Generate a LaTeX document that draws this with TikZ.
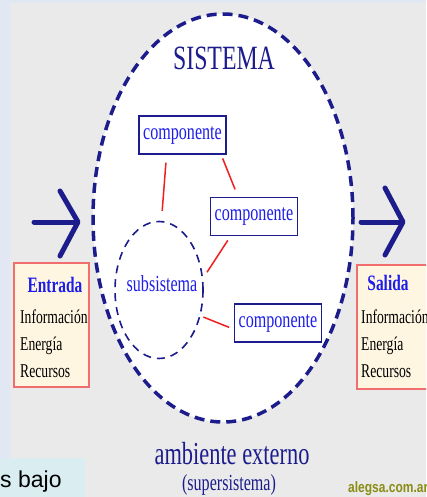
\documentclass[tikz,border=0pt]{standalone}
\usepackage{fontspec}
\setmainfont{Liberation Serif}[FakeStretch=0.7]
\setsansfont{Liberation Sans}[FakeStretch=0.8]
\newfontfamily\plainsans{Liberation Sans}
\usetikzlibrary{shapes.geometric}
\definecolor{navy}{RGB}{28,28,140}
\definecolor{compblue}{RGB}{30,30,235}
\definecolor{boxred}{RGB}{240,110,110}
\definecolor{cream}{RGB}{255,246,226}
\definecolor{panelgrey}{RGB}{234,234,234}
\definecolor{edgeblue}{RGB}{225,232,243}
\definecolor{notecyan}{RGB}{218,238,242}
\definecolor{olive}{RGB}{138,140,20}
\definecolor{linkred}{RGB}{240,30,30}
\begin{document}
\begin{tikzpicture}[x=1pt, y=-1pt,
    comp/.style={draw=navy, line width=1.4pt, fill=white, minimum width=87pt, minimum height=38pt, inner sep=0pt, text=compblue, font=\fontsize{23}{23}\selectfont},
    link/.style={draw=linkred, line width=1.5pt},
    ioBox/.style={draw=boxred, line width=1.6pt, fill=cream, minimum width=75pt, minimum height=124pt, inner sep=0pt},
    ioHead/.style={anchor=base, inner sep=0pt, text=compblue, font=\fontsize{22}{22}\selectfont\bfseries},
    ioItem/.style={anchor=base west, inner sep=0pt, font=\fontsize{19.5}{19.5}\selectfont},
    bigArrow/.style={draw=navy, line width=5pt, line cap=round, line join=round}]
    \useasboundingbox (0,0) rectangle (426,497);
    \clip (0,0) rectangle (426,497);
    % background
    \fill[edgeblue] (0,0) rectangle (426,497);
    \fill[panelgrey] (10,3) rectangle (426,497);
    \fill[notecyan] (0,458) rectangle (85,497);

    % system
    \node[draw=navy, fill=white, ellipse, line width=3.5pt, dash pattern=on 10pt off 6pt, minimum width=260pt, minimum height=408pt, inner sep=0pt] (sistema) at (223,218) {};
    \node[anchor=base, text=navy, font=\fontsize{34}{34}\selectfont] (titulo) at (224,70) {SISTEMA};

    \node[comp] (compA) at (182.5,135) {componente};
    \node[comp] (compB) at (254,216.5) {componente};
    \node[comp] (compC) at (278,323) {componente};

    \node[draw=navy, ellipse, line width=1.6pt, dash pattern=on 8pt off 6pt, minimum width=88pt, minimum height=137pt, inner sep=0pt] (subsis) at (159,290) {};
    \node[anchor=base, inner sep=0pt, text=compblue, font=\fontsize{23}{23}\selectfont] (subsisLbl) at (162,291) {subsistema};

    \draw[link, shorten <=8pt, shorten >=10pt] (compA.-129) -- (subsis.88);
    \draw[link, shorten <=4pt, shorten >=8pt] (compA.-27) -- (compB.129);
    \draw[link, shorten <=5pt, shorten >=7pt] (compB.-140) -- (subsis.15);
    \draw[link, shorten <=3pt, shorten >=5pt] (subsis.-32) -- (compC.-172);

    % input / output
    \draw[bigArrow] (34,222) -- (77,222);
    \draw[bigArrow] (60,191) -- (78,222) -- (60,256);
    \draw[bigArrow] (361,222) -- (402,222);
    \draw[bigArrow] (385,188) -- (403,222) -- (385,255);

    \node[ioBox] (entrada) at (51.5,325) {};
    \node[ioHead] (entradaT) at (55,292) {Entrada};
    \node[ioItem] (entI1) at (20,323) {Información};
    \node[ioItem] (entI2) at (20,350) {Energía};
    \node[ioItem] (entI3) at (20,377) {Recursos};

    \node[ioBox] (salida) at (394.5,327) {};
    \node[ioHead] (salidaT) at (388,290) {Salida};
    \node[ioItem] (salI1) at (361,323) {Información};
    \node[ioItem] (salI2) at (361,350) {Energía};
    \node[ioItem] (salI3) at (361,377) {Recursos};

    % environment
    \node[anchor=base, inner sep=0pt, text=navy, font=\fontsize{32}{32}\selectfont] (ambiente) at (232,464) {ambiente externo};
    \node[anchor=base, inner sep=0pt, text=navy, font=\fontsize{23}{23}\selectfont] (superLbl) at (229,490) {(supersistema)};
    \node[anchor=base west, inner sep=0pt, text=olive, font=\sffamily\bfseries\fontsize{15}{15}\selectfont] (alegsa) at (348,492) {alegsa.com.ar};
    \node[anchor=base west, inner sep=0pt, font=\plainsans\fontsize{23}{23}\selectfont] (bajo) at (0,487) {s bajo};
\end{tikzpicture}
\end{document}
